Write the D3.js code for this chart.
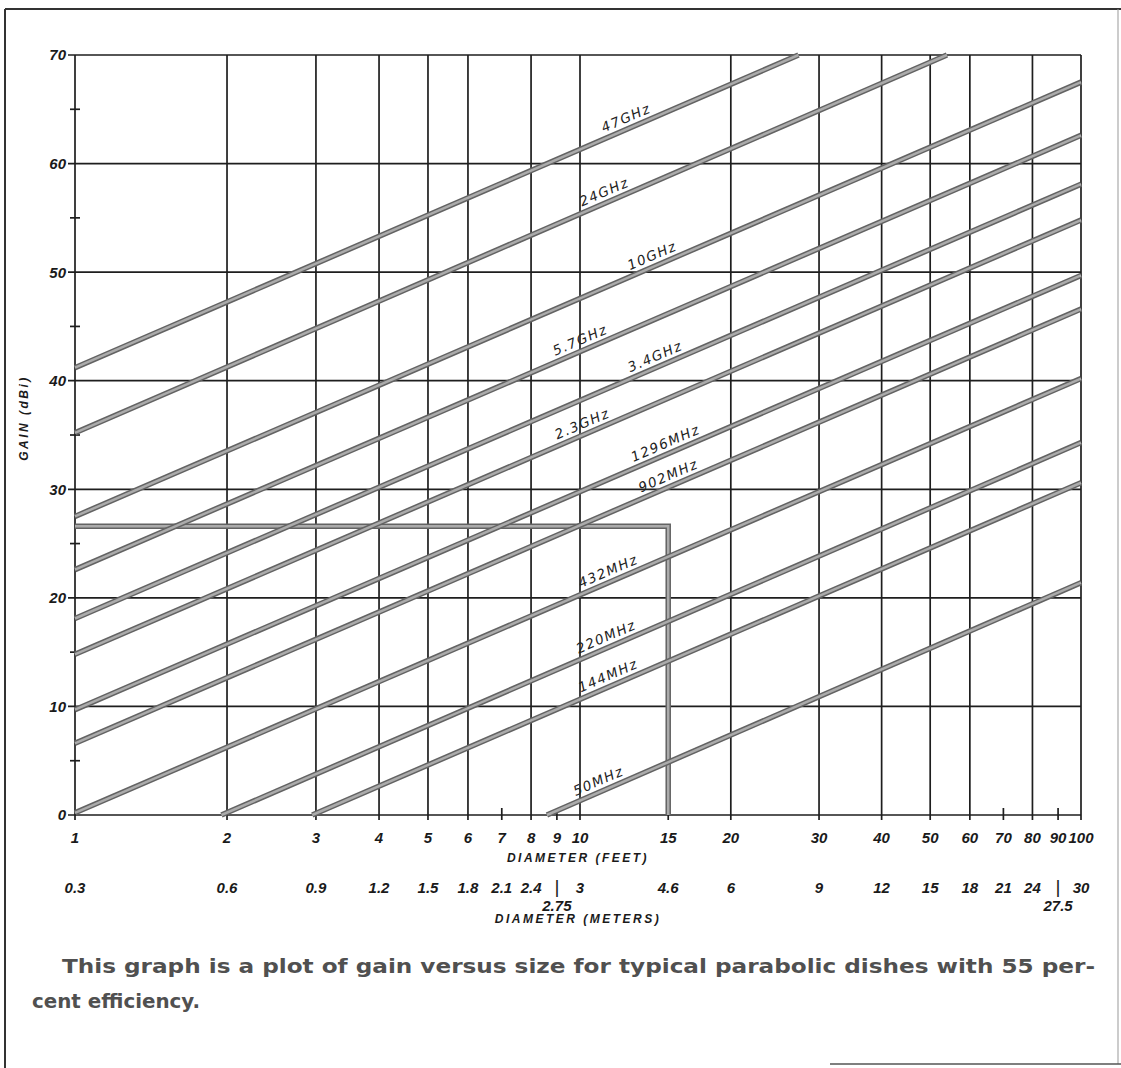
<!DOCTYPE html>
<meta charset="utf-8">
<style>
body { margin: 0; background: #fff; }
text { font-family: 'Liberation Sans', Arial, sans-serif; fill: #1a1a1a; }
.tick { font-style: italic; font-weight: bold; font-size: 15px; }
.ytick { font-style: italic; font-weight: bold; font-size: 15px; }
.lbl { font-family: 'DejaVu Sans', sans-serif; font-style: italic; font-size: 13.5px; letter-spacing: 1.5px; fill: #222; }
.title { font-style: italic; font-weight: bold; font-size: 12px; letter-spacing: 2.5px; }
.caption { font-family: 'DejaVu Sans', sans-serif; font-weight: bold; font-size: 20px; fill: #505050; }
</style>
<body>
<script src="https://d3js.org/d3.v7.min.js"></script>
<script>
// gain lines, endpoints (feet, dBi)
const freqs     = ["47GHz", "24GHz", "10GHz", "5.7GHz", "3.4GHz", "2.3GHz", "1296MHz", "902MHz", "432MHz", "220MHz", "144MHz", "50MHz"];
const startFeet = [1, 1, 1, 1, 1, 1, 1, 1, 1, 1.95, 2.95, 8.6];
const startGain = [41.2, 35.2, 27.5, 22.6, 18.1, 14.8, 9.7, 6.6, 0.2, 0, 0, 0];
const endFeet   = [27.3, 54, 100, 100, 100, 100, 100, 100, 100, 100, 100, 100];
const endGain   = [70, 70, 67.5, 62.6, 58.1, 54.8, 49.7, 46.6, 40.2, 34.3, 30.6, 21.4];
const labelFeet = [12.6, 11.4, 14.2, 10.2, 14.4, 10.3, 15.1, 15.3, 11.6, 11.5, 11.6, 11.1];

// worked example: 15 ft dish at 432 MHz
const exampleFeet = 15, exampleGain = 26.6;

const gridFeet = [2, 3, 4, 5, 6, 8, 10, 20, 30, 40, 50, 60, 80, 100];
const shortTickFeet = [7, 9, 15, 70, 90];
const feetTicks = [1, 2, 3, 4, 5, 6, 7, 8, 9, 10, 15, 20, 30, 40, 50, 60, 70, 80, 90, 100];
const meterLabels = ["0.3", "0.6", "0.9", "1.2", "1.5", "1.8", "2.1", "2.4", "|", "3", "4.6", "6", "9", "12", "15", "18", "21", "24", "|", "30"];
const meterExtraFeet = [9, 90];
const meterExtraLabels = ["2.75", "27.5"];
const gainTicks = [0, 10, 20, 30, 40, 50, 60, 70];
const gainMinor = [5, 15, 25, 35, 45, 55, 65];

const W = 1121, H = 1068;
const svg = d3.select("body").append("svg").attr("width", W).attr("height", H);

const x = d3.scaleLog().domain([1, 10, 100]).range([75, 580, 1081]);
const y = d3.scaleLinear().domain([0, 70]).range([815, 55]);

// page frame
const frame = svg.append("g").attr("stroke", "#333").attr("fill", "none");
frame.append("line").attr("x1", 5).attr("y1", 9).attr("x2", W).attr("y2", 9).attr("stroke-width", 2);
frame.append("line").attr("x1", 5).attr("y1", 9).attr("x2", 5).attr("y2", H).attr("stroke-width", 2);
frame.append("line").attr("x1", 1118).attr("y1", 9).attr("x2", 1118).attr("y2", 1064).attr("stroke", "#999").attr("stroke-width", 1);
frame.append("line").attr("x1", 830).attr("y1", 1064).attr("x2", W).attr("y2", 1064).attr("stroke", "#555").attr("stroke-width", 1.5);

// grid
const grid = svg.append("g").attr("stroke", "#1e1e1e").attr("stroke-width", 1.7);
grid.selectAll(".h").data(gainTicks).join("line")
    .attr("x1", x(1) - 7).attr("x2", x(100))
    .attr("y1", d => y(d)).attr("y2", d => y(d));
grid.selectAll(".m").data(gainMinor).join("line")
    .attr("x1", x(1) - 5).attr("x2", x(1) + 5)
    .attr("y1", d => y(d)).attr("y2", d => y(d));
grid.append("line").attr("x1", x(1)).attr("x2", x(1)).attr("y1", y(70)).attr("y2", y(0) + 5);
grid.selectAll(".v").data(gridFeet).join("line")
    .attr("x1", d => x(d)).attr("x2", d => x(d))
    .attr("y1", y(70)).attr("y2", y(0) + 5);
grid.selectAll(".s").data(shortTickFeet).join("line")
    .attr("x1", d => x(d)).attr("x2", d => x(d))
    .attr("y1", y(0) - 7).attr("y2", y(0) + 5);

// double-stroked gray lines
function ruled(g, d) {
    g.append("path").attr("d", d).attr("fill", "none").attr("stroke", "#636363").attr("stroke-width", 5.5);
    g.append("path").attr("d", d).attr("fill", "none").attr("stroke", "#ababab").attr("stroke-width", 2.5);
}

const line = d3.line().x(p => x(p[0])).y(p => y(p[1]));
const lines = svg.append("g");
ruled(lines, line([[1, exampleGain], [exampleFeet, exampleGain], [exampleFeet, 0]]));
freqs.forEach((f, i) => {
    ruled(lines, line([[startFeet[i], startGain[i]], [endFeet[i], endGain[i]]]));
});

// line labels
const labels = svg.append("g");
freqs.forEach((f, i) => {
    const x0 = x(startFeet[i]), y0 = y(startGain[i]);
    const x1 = x(endFeet[i]), y1 = y(endGain[i]);
    const ang = Math.atan2(y1 - y0, x1 - x0) * 180 / Math.PI;
    const t = (x(labelFeet[i]) - x0) / (x1 - x0);
    const px = x0 + t * (x1 - x0), py = y0 + t * (y1 - y0);
    labels.append("text").attr("class", "lbl")
        .attr("text-anchor", "middle")
        .attr("transform", `translate(${px},${py}) rotate(${ang})`)
        .attr("y", -6)
        .text(f);
});

// y axis labels
svg.append("g").selectAll("text").data(gainTicks).join("text")
    .attr("class", "ytick").attr("text-anchor", "end")
    .attr("x", x(1) - 9).attr("y", d => y(d)).attr("dy", "0.36em")
    .text(d => d);
svg.append("text").attr("class", "title").attr("text-anchor", "middle")
    .attr("transform", `translate(28,418) rotate(-90)`)
    .text("GAIN (dBi)");

// x axis labels, feet
svg.append("g").selectAll("text").data(feetTicks).join("text")
    .attr("class", "tick").attr("text-anchor", "middle")
    .attr("x", d => x(d)).attr("y", 843)
    .text(d => d);
svg.append("text").attr("class", "title").attr("text-anchor", "middle")
    .attr("x", 578).attr("y", 862).text("DIAMETER (FEET)");

// x axis labels, meters
svg.append("g").selectAll("text").data(meterLabels).join("text")
    .attr("class", "tick").attr("text-anchor", "middle")
    .attr("x", (d, i) => x(feetTicks[i])).attr("y", 893)
    .style("font-weight", d => d === "|" ? "normal" : null)
    .style("font-style", d => d === "|" ? "normal" : null)
    .style("font-size", d => d === "|" ? "19px" : null)
    .text(d => d);
svg.append("g").selectAll("text").data(meterExtraLabels).join("text")
    .attr("class", "tick").attr("text-anchor", "middle")
    .attr("x", (d, i) => x(meterExtraFeet[i])).attr("y", 911)
    .text(d => d);
svg.append("text").attr("class", "title").attr("text-anchor", "middle")
    .attr("x", 578).attr("y", 923).text("DIAMETER (METERS)");

// caption
svg.append("text").attr("class", "caption").attr("x", 62).attr("y", 973)
    .attr("textLength", 1033).attr("lengthAdjust", "spacingAndGlyphs")
    .text("This graph is a plot of gain versus size for typical parabolic dishes with 55 per-");
svg.append("text").attr("class", "caption").attr("x", 32).attr("y", 1008)
    .attr("textLength", 168).attr("lengthAdjust", "spacingAndGlyphs")
    .text("cent efficiency.");
</script>
</body>
